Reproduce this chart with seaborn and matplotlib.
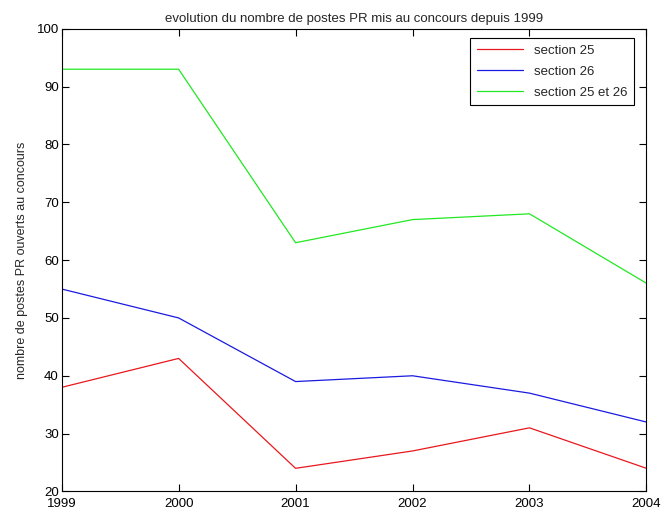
import matplotlib
matplotlib.use("Agg")
import matplotlib.pyplot as plt
import seaborn as sns
import pandas as pd

# Données
years = [1999, 2000, 2001, 2002, 2003, 2004]
section_25 = [38, 43, 24, 27, 31, 24]
section_26 = [55, 50, 39, 40, 37, 32]
section_25_26 = [93, 93, 63, 67, 68, 56]
series_names = ["section 25", "section 26", "section 25 et 26"]
colors = ["#e8181e", "#1a1ae0", "#22e822"]

df = pd.DataFrame({
    "annee": years * 3,
    "postes": section_25 + section_26 + section_25_26,
    "serie": [series_names[0]] * 6 + [series_names[1]] * 6 + [series_names[2]] * 6,
})

sns.set_theme(style="white")
plt.rcParams["font.family"] = ["Liberation Sans", "DejaVu Sans"]

fig = plt.figure(figsize=(6.63, 5.13), dpi=100)
ax = fig.add_axes([0.093, 0.042, 0.882, 0.902])

sns.lineplot(data=df, x="annee", y="postes", hue="serie", palette=colors,
             hue_order=series_names, linewidth=0.9, ax=ax)

ax.set_xlim(1999, 2004)
ax.set_ylim(20, 100)
ax.set_xticks(years)
ax.set_yticks(range(20, 101, 10))
ax.tick_params(direction="in", length=5, width=0.8, labelsize=9.5, colors="black",
               top=True, right=True, left=True, bottom=True)
ax.tick_params(axis="x", pad=5)
ax.tick_params(axis="y", pad=2)
for s in ax.spines.values():
    s.set_visible(True)
    s.set_color("black")
    s.set_linewidth(0.8)

ax.set_title("evolution du nombre de postes PR mis au concours depuis 1999", fontsize=9.5, pad=5)
ax.set_xlabel("")
ax.set_ylabel("nombre de postes PR ouverts au concours", fontsize=9, labelpad=6)

leg = ax.legend(loc="upper right", bbox_to_anchor=(0.985, 0.988), fontsize=9.5,
                fancybox=False, framealpha=1, edgecolor="black",
                handlelength=3.5, borderpad=0.5, labelspacing=0.65, borderaxespad=0.3)
leg.get_frame().set_linewidth(0.8)

fig.savefig("out.png", dpi=100)
plt.close(fig)
